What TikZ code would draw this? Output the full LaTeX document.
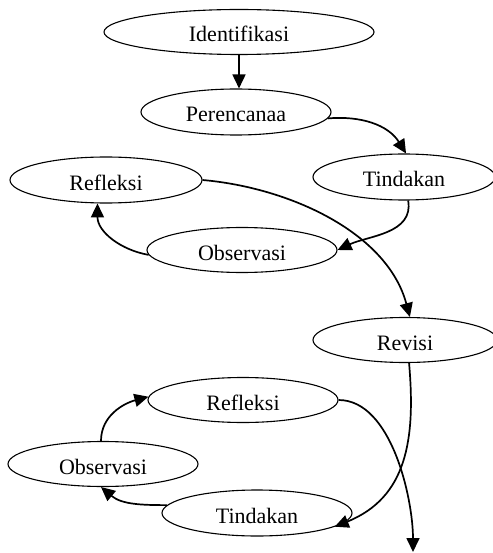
\documentclass[tikz,border=0pt]{standalone}
\usepackage{fontspec}
\setmainfont{Liberation Serif}
\usetikzlibrary{shapes.geometric}
\usetikzlibrary{arrows.meta}

\begin{document}
\begin{tikzpicture}
[x=1pt,y=-1pt,
  stage/.style={shape=ellipse,draw=black,line width=1.1pt,inner sep=0pt,
    minimum width=190pt,minimum height=46pt,text height=20pt,text depth=0pt,
    font=\fontsize{22}{22}\selectfont},
  flow/.style={line width=1.7pt,-{Triangle[length=14pt,width=13pt]}}]

\useasboundingbox (0,0) rectangle (492,553);

\node [stage,minimum width=270pt,minimum height=45pt] (ident) at (239,32) {Identifikasi};
\node [stage] (plan) at (236,112) {Perencanaa};
\node [stage,minimum width=182pt] (act1) at (404,177) {Tindakan};
\node [stage,minimum width=192pt] (refl1) at (106,180) {Refleksi};
\node [stage,minimum height=45pt] (obs1) at (242,250) {Observasi};
\node [stage,minimum width=184pt,minimum height=45pt] (rev) at (405,340) {Revisi};
\node [stage,minimum height=45pt] (refl2) at (243,400) {Refleksi};
\node [stage,minimum height=45pt] (obs2) at (103,464) {Observasi};
\node [stage] (act2) at (257,513) {Tindakan};
\coordinate (exit) at (413,552);

% siklus I
\draw [flow] (ident.south -| 239,0) -- (plan.north -| 239,0);
\draw [flow] (plan.-4) to[out=5,in=122] (act1.85);
\draw [flow] (act1.-80) to[out=-80,in=25] (obs1.east);
\draw [flow] (obs1.183) to[out=170,in=-90] (refl1.-110);
\draw [flow] (refl1.east) to[out=-5,in=105,looseness=0.9] (rev.78);

% siklus II
\draw [flow] (rev.-80) to[out=-85,in=22,looseness=1.1] (act2.-10);
\draw [flow] (act2.175) to[out=180,in=-40] (obs2.-95);
\draw [flow] (obs2.95) to[out=90,in=195] (refl2.178);
\draw [flow] (refl2.east) to[out=0,in=90,looseness=0.8] (exit);
\end{tikzpicture}
\end{document}
